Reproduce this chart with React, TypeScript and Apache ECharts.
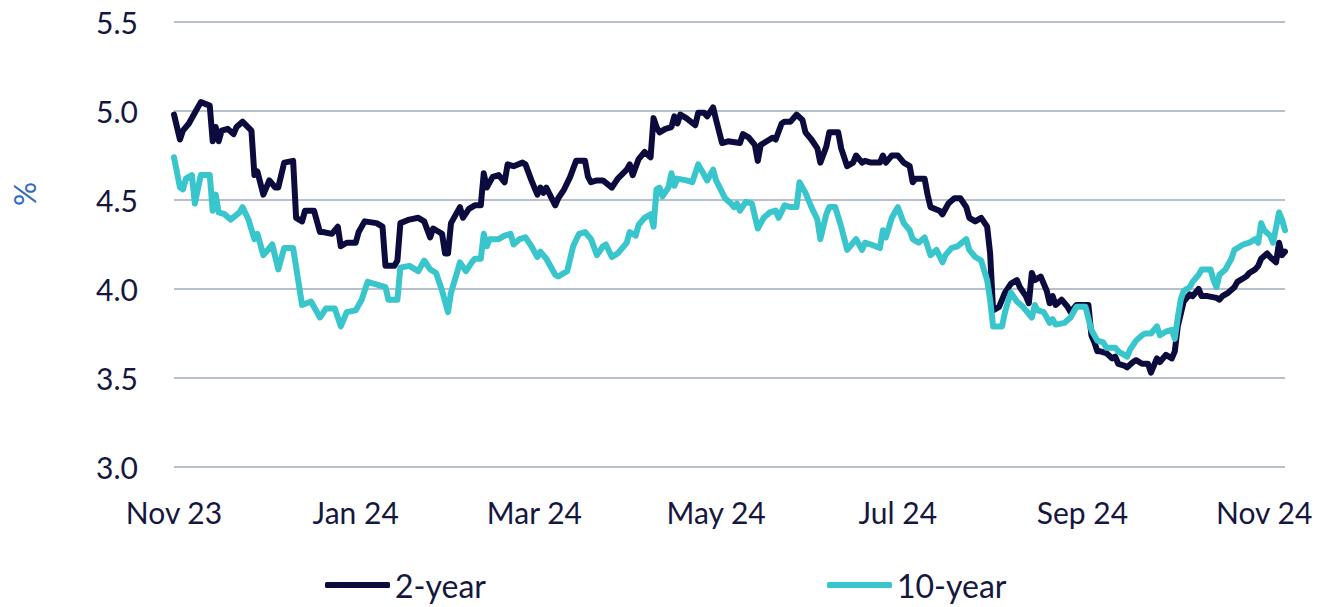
import React, { useEffect, useRef } from 'react';
import * as echarts from 'echarts';

const twoYearDates = [
  '2023-11-01','2023-11-03','2023-11-04','2023-11-06','2023-11-08','2023-11-10','2023-11-13','2023-11-14','2023-11-15','2023-11-16','2023-11-17','2023-11-19','2023-11-21','2023-11-22','2023-11-24','2023-11-27','2023-11-28','2023-11-29',
  '2023-12-01','2023-12-03','2023-12-05','2023-12-06','2023-12-08','2023-12-11','2023-12-12','2023-12-14','2023-12-15','2023-12-18','2023-12-20','2023-12-21','2023-12-24','2023-12-26','2023-12-27','2023-12-29',
  '2024-01-01','2024-01-02','2024-01-04','2024-01-08','2024-01-10','2024-01-11','2024-01-14','2024-01-15','2024-01-16','2024-01-19','2024-01-22','2024-01-24','2024-01-26','2024-01-27','2024-01-29','2024-01-30','2024-01-31',
  '2024-02-01','2024-02-02','2024-02-05','2024-02-06','2024-02-08','2024-02-10','2024-02-12','2024-02-13','2024-02-14','2024-02-16','2024-02-18','2024-02-20','2024-02-21','2024-02-23','2024-02-26','2024-02-27','2024-02-29',
  '2024-03-02','2024-03-03','2024-03-04','2024-03-05','2024-03-08','2024-03-09','2024-03-11','2024-03-13','2024-03-15','2024-03-18','2024-03-19','2024-03-20','2024-03-22','2024-03-24','2024-03-27','2024-03-29',
  '2024-04-01','2024-04-02','2024-04-03','2024-04-05','2024-04-07','2024-04-09','2024-04-10','2024-04-11','2024-04-12','2024-04-14','2024-04-16','2024-04-17','2024-04-18','2024-04-19','2024-04-21','2024-04-24','2024-04-25','2024-04-27','2024-04-28','2024-04-30',
  '2024-05-01','2024-05-03','2024-05-05','2024-05-09','2024-05-10','2024-05-12','2024-05-14','2024-05-15','2024-05-16','2024-05-18','2024-05-20','2024-05-21','2024-05-23','2024-05-24','2024-05-26','2024-05-28','2024-05-30','2024-05-31',
  '2024-06-02','2024-06-04','2024-06-05','2024-06-07','2024-06-08','2024-06-11','2024-06-12','2024-06-14','2024-06-16','2024-06-17','2024-06-19','2024-06-20','2024-06-22','2024-06-25','2024-06-26','2024-06-27','2024-06-29',
  '2024-07-01','2024-07-03','2024-07-05','2024-07-06','2024-07-07','2024-07-10','2024-07-11','2024-07-12','2024-07-15','2024-07-16','2024-07-18','2024-07-20','2024-07-22','2024-07-24','2024-07-25','2024-07-27','2024-07-29','2024-07-31',
  '2024-08-01','2024-08-02','2024-08-04','2024-08-06','2024-08-08','2024-08-10','2024-08-11','2024-08-13','2024-08-14','2024-08-15','2024-08-16','2024-08-18','2024-08-20','2024-08-21','2024-08-22','2024-08-23','2024-08-25','2024-08-27','2024-08-28','2024-08-30',
  '2024-09-01','2024-09-03','2024-09-04','2024-09-05','2024-09-06','2024-09-07','2024-09-09','2024-09-11','2024-09-12','2024-09-13','2024-09-15','2024-09-16','2024-09-18','2024-09-19','2024-09-21','2024-09-23','2024-09-24','2024-09-26','2024-09-27','2024-09-29',
  '2024-10-01','2024-10-02','2024-10-03','2024-10-05','2024-10-07','2024-10-08','2024-10-10','2024-10-11','2024-10-13','2024-10-16','2024-10-17','2024-10-18','2024-10-20','2024-10-22','2024-10-23','2024-10-26','2024-10-27','2024-10-29','2024-10-30','2024-10-31',
  '2024-11-02','2024-11-03','2024-11-05','2024-11-06','2024-11-07','2024-11-08',
];

const twoYearValues = [
  4.98,4.84,4.89,4.93,4.99,5.05,5.03,4.83,4.91,4.83,4.89,4.90,4.87,4.91,4.94,4.89,4.64,4.66,
  4.53,4.61,4.57,4.57,4.71,4.72,4.40,4.38,4.44,4.44,4.32,4.32,4.31,4.35,4.24,4.26,
  4.26,4.32,4.38,4.37,4.35,4.13,4.13,4.16,4.37,4.39,4.40,4.38,4.29,4.34,4.32,4.31,4.20,
  4.20,4.37,4.46,4.40,4.45,4.47,4.47,4.65,4.57,4.63,4.64,4.60,4.70,4.69,4.71,4.70,4.61,
  4.53,4.57,4.54,4.57,4.47,4.51,4.56,4.63,4.72,4.72,4.63,4.60,4.61,4.61,4.57,4.62,
  4.67,4.70,4.64,4.73,4.77,4.74,4.96,4.91,4.88,4.90,4.91,4.97,4.93,4.98,4.96,4.92,4.99,4.99,4.97,5.02,
  4.95,4.82,4.83,4.82,4.87,4.85,4.81,4.72,4.81,4.83,4.85,4.84,4.93,4.94,4.94,4.98,4.95,4.88,
  4.84,4.79,4.71,4.80,4.88,4.88,4.79,4.69,4.71,4.75,4.71,4.72,4.71,4.71,4.75,4.71,4.75,
  4.75,4.71,4.69,4.60,4.62,4.62,4.53,4.46,4.44,4.42,4.48,4.51,4.51,4.46,4.40,4.38,4.40,4.35,
  4.20,3.88,3.90,3.98,4.03,4.05,4.01,3.96,3.92,4.09,4.05,4.07,3.99,3.92,3.96,3.91,3.94,3.90,3.87,3.91,
  3.91,3.91,3.74,3.70,3.65,3.65,3.64,3.61,3.62,3.58,3.57,3.56,3.59,3.60,3.58,3.58,3.53,3.61,3.59,3.63,
  3.61,3.65,3.79,3.93,3.97,3.96,4.00,3.96,3.96,3.95,3.94,3.96,3.98,4.01,4.04,4.07,4.09,4.11,4.13,4.17,
  4.20,4.18,4.15,4.26,4.19,4.21,
];

const tenYearDates = [
  '2023-11-01','2023-11-03','2023-11-04','2023-11-05','2023-11-07','2023-11-08','2023-11-10','2023-11-13','2023-11-14','2023-11-15','2023-11-16','2023-11-18','2023-11-20','2023-11-23','2023-11-24','2023-11-26','2023-11-28','2023-11-29',
  '2023-12-01','2023-12-04','2023-12-06','2023-12-08','2023-12-11','2023-12-14','2023-12-17','2023-12-20','2023-12-22','2023-12-25','2023-12-27','2023-12-29',
  '2024-01-01','2024-01-03','2024-01-05','2024-01-09','2024-01-11','2024-01-12','2024-01-15','2024-01-16','2024-01-19','2024-01-22','2024-01-24','2024-01-26','2024-01-28','2024-01-30',
  '2024-02-01','2024-02-02','2024-02-04','2024-02-05','2024-02-07','2024-02-09','2024-02-10','2024-02-12','2024-02-13','2024-02-14','2024-02-15','2024-02-18','2024-02-20','2024-02-22','2024-02-23','2024-02-25','2024-02-27','2024-02-29',
  '2024-03-02','2024-03-03','2024-03-05','2024-03-08','2024-03-09','2024-03-12','2024-03-14','2024-03-16','2024-03-18','2024-03-20','2024-03-22','2024-03-24','2024-03-25','2024-03-27','2024-03-29',
  '2024-04-01','2024-04-02','2024-04-04','2024-04-05','2024-04-07','2024-04-09','2024-04-10','2024-04-11','2024-04-12','2024-04-13','2024-04-15','2024-04-16','2024-04-17','2024-04-18','2024-04-21','2024-04-23','2024-04-25','2024-04-27','2024-04-28','2024-04-30',
  '2024-05-01','2024-05-04','2024-05-06','2024-05-07','2024-05-08','2024-05-09','2024-05-11','2024-05-13','2024-05-15','2024-05-17','2024-05-19','2024-05-21','2024-05-22','2024-05-24','2024-05-26','2024-05-28','2024-05-29','2024-05-31',
  '2024-06-02','2024-06-04','2024-06-05','2024-06-07','2024-06-08','2024-06-10','2024-06-12','2024-06-14','2024-06-16','2024-06-17','2024-06-19','2024-06-20','2024-06-22','2024-06-25','2024-06-26','2024-06-27','2024-06-29',
  '2024-07-01','2024-07-03','2024-07-05','2024-07-06','2024-07-08','2024-07-10','2024-07-12','2024-07-14','2024-07-16','2024-07-17','2024-07-19','2024-07-21','2024-07-24','2024-07-25','2024-07-27','2024-07-29','2024-07-31',
  '2024-08-01','2024-08-02','2024-08-05','2024-08-06','2024-08-07','2024-08-08','2024-08-10','2024-08-12','2024-08-13','2024-08-15','2024-08-16','2024-08-17','2024-08-19','2024-08-21','2024-08-22','2024-08-23','2024-08-26','2024-08-28','2024-08-30',
  '2024-09-02','2024-09-04','2024-09-06','2024-09-08','2024-09-09','2024-09-12','2024-09-13','2024-09-14','2024-09-16','2024-09-17','2024-09-19','2024-09-21','2024-09-22','2024-09-24','2024-09-26','2024-09-27','2024-09-29',
  '2024-10-01','2024-10-02','2024-10-03','2024-10-04','2024-10-05','2024-10-07','2024-10-08','2024-10-10','2024-10-11','2024-10-14','2024-10-15','2024-10-16','2024-10-17','2024-10-19','2024-10-21','2024-10-22','2024-10-24','2024-10-25','2024-10-27','2024-10-29','2024-10-30','2024-10-31',
  '2024-11-01','2024-11-03','2024-11-04','2024-11-06','2024-11-07','2024-11-08',
];

const tenYearValues = [
  4.74,4.57,4.56,4.62,4.64,4.48,4.64,4.64,4.44,4.53,4.43,4.42,4.39,4.43,4.46,4.39,4.28,4.31,
  4.19,4.25,4.11,4.23,4.23,3.91,3.93,3.84,3.89,3.89,3.79,3.87,
  3.88,3.94,4.04,4.02,4.01,3.94,3.94,4.12,4.13,4.10,4.16,4.11,4.09,3.99,
  3.87,3.98,4.09,4.15,4.10,4.15,4.17,4.17,4.31,4.24,4.28,4.28,4.30,4.31,4.25,4.28,4.29,4.24,
  4.18,4.21,4.17,4.08,4.07,4.10,4.24,4.31,4.32,4.28,4.19,4.24,4.25,4.18,4.20,
  4.26,4.32,4.30,4.36,4.40,4.42,4.35,4.56,4.57,4.52,4.57,4.65,4.58,4.62,4.61,4.60,4.70,4.64,4.61,4.67,
  4.61,4.51,4.48,4.46,4.48,4.44,4.49,4.48,4.34,4.40,4.43,4.44,4.40,4.47,4.46,4.46,4.60,4.54,
  4.46,4.39,4.28,4.42,4.46,4.46,4.35,4.22,4.26,4.28,4.22,4.26,4.25,4.23,4.33,4.29,4.40,
  4.46,4.37,4.33,4.28,4.26,4.29,4.19,4.22,4.15,4.19,4.23,4.24,4.28,4.22,4.18,4.16,4.05,
  3.94,3.79,3.79,3.87,3.93,3.98,3.93,3.90,3.88,3.84,3.91,3.88,3.87,3.81,3.83,3.80,3.81,3.84,3.90,
  3.90,3.77,3.71,3.70,3.67,3.67,3.65,3.64,3.62,3.66,3.71,3.74,3.75,3.75,3.79,3.74,3.76,
  3.77,3.72,3.84,3.94,3.99,4.01,4.04,4.08,4.11,4.11,4.05,4.01,4.08,4.11,4.17,4.22,4.24,4.25,4.26,4.28,4.26,4.37,
  4.33,4.30,4.26,4.43,4.39,4.33,
];

const xTickDates = ['2023-11-01', '2024-01-01', '2024-03-01', '2024-05-01', '2024-07-01', '2024-09-01', '2024-11-01'];
const xStartDate = '2023-11-01';
const xEndDate = '2024-11-08';
const monthNames = ['Jan', 'Feb', 'Mar', 'Apr', 'May', 'Jun', 'Jul', 'Aug', 'Sep', 'Oct', 'Nov', 'Dec'];
const seriesNames = ['2-year', '10-year'];
const seriesColors = ['#0c0b3e', '#38c5cc'];

const toTime = (s: string) => {
  const [y, m, d] = s.split('-').map(Number);
  return new Date(y, m - 1, d).getTime();
};

export default function App() {
  const ref = useRef<HTMLDivElement>(null);

  useEffect(() => {
    if (!ref.current) return;
    const chart = echarts.init(ref.current, null, { renderer: 'svg' });
    const font = 'Lato';
    const textColor = '#16173f';
    const legendBase = {
      top: 567,
      padding: 0,
      itemWidth: 65,
      itemHeight: 6,
      icon: 'roundRect',
      textStyle: { fontFamily: font, fontSize: 32, color: textColor, lineHeight: 36 },
      selectedMode: false,
    };
    chart.setOption({
      animation: false,
      backgroundColor: '#ffffff',
      grid: { left: 174, right: 50, top: 22, bottom: 140 },
      xAxis: {
        type: 'value',
        min: toTime(xStartDate),
        max: toTime(xEndDate),
        axisLine: { show: false },
        axisTick: { show: false },
        splitLine: { show: false },
        axisLabel: {
          customValues: xTickDates.map(toTime),
          formatter: (v: number) => {
            const d = new Date(v);
            return monthNames[d.getMonth()] + ' ' + String(d.getFullYear()).slice(2);
          },
          fontFamily: font,
          fontSize: 30,
          color: textColor,
          margin: 30,
        },
      },
      yAxis: {
        type: 'value',
        min: 3,
        max: 5.5,
        interval: 0.5,
        axisLine: { show: false },
        axisTick: { show: false },
        splitLine: { lineStyle: { color: '#b8c0cd', width: 2 } },
        axisLabel: {
          formatter: (v: number) => v.toFixed(1),
          fontFamily: font,
          fontSize: 30,
          color: textColor,
          margin: 36,
        },
      },
      legend: [
        { ...legendBase, left: 325, data: [seriesNames[0]] },
        { ...legendBase, left: 827, data: [seriesNames[1]] },
      ],
      graphic: [
        {
          type: 'text',
          x: 24,
          y: 194,
          rotation: Math.PI / 2,
          style: {
            text: '%',
            fontFamily: font,
            fontSize: 30,
            fill: '#2e68c2',
            align: 'center',
            verticalAlign: 'middle',
          },
        },
      ],
      series: [
        {
          name: seriesNames[0],
          type: 'line',
          showSymbol: false,
          data: twoYearDates.map((d, i) => [toTime(d), twoYearValues[i]]),
          lineStyle: { color: seriesColors[0], width: 6, cap: 'round', join: 'round' },
          itemStyle: { color: seriesColors[0] },
        },
        {
          name: seriesNames[1],
          type: 'line',
          showSymbol: false,
          data: tenYearDates.map((d, i) => [toTime(d), tenYearValues[i]]),
          lineStyle: { color: seriesColors[1], width: 6, cap: 'round', join: 'round' },
          itemStyle: { color: seriesColors[1] },
        },
      ],
    });
    return () => chart.dispose();
  }, []);

  return (
    <div
      ref={ref}
      style={{ position: 'fixed', left: 0, top: 0, width: 1335, height: 607, background: '#fff' }}
    />
  );
}
